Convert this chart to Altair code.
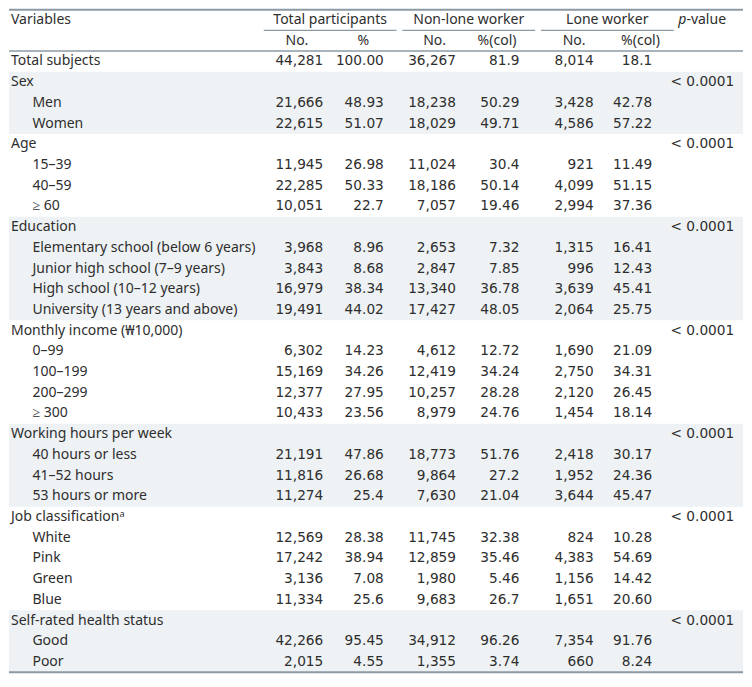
import altair as alt
import pandas as pd

# ---------------- data ----------------
variables = [
    "Total subjects",
    "Sex", "Men", "Women",
    "Age", "15–39", "40–59", "≥ 60",
    "Education", "Elementary school (below 6 years)", "Junior high school (7–9 years)",
    "High school (10–12 years)", "University (13 years and above)",
    "Monthly income (₩10,000)", "0–99", "100–199", "200–299", "≥ 300",
    "Working hours per week", "40 hours or less", "41–52 hours", "53 hours or more",
    "Job classificationᵃ", "White", "Pink", "Green", "Blue",
    "Self-rated health status", "Good", "Poor",
]
level = [0, 0, 1, 1, 0, 1, 1, 1, 0, 1, 1, 1, 1, 0, 1, 1, 1, 1, 0, 1, 1, 1, 0, 1, 1, 1, 1, 0, 1, 1]
total_no = ["44,281", "", "21,666", "22,615", "", "11,945", "22,285", "10,051", "", "3,968", "3,843",
            "16,979", "19,491", "", "6,302", "15,169", "12,377", "10,433", "", "21,191", "11,816",
            "11,274", "", "12,569", "17,242", "3,136", "11,334", "", "42,266", "2,015"]
total_pct = ["100.00", "", "48.93", "51.07", "", "26.98", "50.33", "22.7", "", "8.96", "8.68",
             "38.34", "44.02", "", "14.23", "34.26", "27.95", "23.56", "", "47.86", "26.68",
             "25.4", "", "28.38", "38.94", "7.08", "25.6", "", "95.45", "4.55"]
nonlone_no = ["36,267", "", "18,238", "18,029", "", "11,024", "18,186", "7,057", "", "2,653", "2,847",
              "13,340", "17,427", "", "4,612", "12,419", "10,257", "8,979", "", "18,773", "9,864",
              "7,630", "", "11,745", "12,859", "1,980", "9,683", "", "34,912", "1,355"]
nonlone_pct = ["81.9", "", "50.29", "49.71", "", "30.4", "50.14", "19.46", "", "7.32", "7.85",
               "36.78", "48.05", "", "12.72", "34.24", "28.28", "24.76", "", "51.76", "27.2",
               "21.04", "", "32.38", "35.46", "5.46", "26.7", "", "96.26", "3.74"]
lone_no = ["8,014", "", "3,428", "4,586", "", "921", "4,099", "2,994", "", "1,315", "996",
           "3,639", "2,064", "", "1,690", "2,750", "2,120", "1,454", "", "2,418", "1,952",
           "3,644", "", "824", "4,383", "1,156", "1,651", "", "7,354", "660"]
lone_pct = ["18.1", "", "42.78", "57.22", "", "11.49", "51.15", "37.36", "", "16.41", "12.43",
            "45.41", "25.75", "", "21.09", "34.31", "26.45", "18.14", "", "30.17", "24.36",
            "45.47", "", "10.28", "54.69", "14.42", "20.60", "", "91.76", "8.24"]
p_value = ["", "< 0.0001", "", "", "< 0.0001", "", "", "", "< 0.0001", "", "", "", "",
           "< 0.0001", "", "", "", "", "< 0.0001", "", "", "", "< 0.0001", "", "", "", "",
           "< 0.0001", "", ""]

group_headers = ["Total participants", "Non-lone worker", "Lone worker"]
sub_headers = ["No.", "%", "No.", "%(col)", "No.", "%(col)"]

# ---------------- layout ----------------
W, H = 734, 666
REF_W = 752
TEXT = "#2e2e2e"
LINE = "#8d9aa6"
SHADE = "#eef2f4"
LABEL_FONT = "Noto Sans"
NUM_FONT = "DejaVu Sans"
LABEL_SIZE = 14
NUM_SIZE = 13.7

label_x = {0: 2, 1: 24}
num_cols = [  # (values, right anchor, is percentage)
    (total_no, 322, False), (total_pct, 384, True),
    (nonlone_no, 458, False), (nonlone_pct, 523, True),
    (lone_no, 599, False), (lone_pct, 659, True),
]
group_spans = [(261, 397), (403, 539), (545, 681)]
sub_centers = [295, 363, 436, 500, 579, 647]
p_right = 743
p_head_x = 694

FIG = "\u2007"  # figure space: keeps decimals aligned


def pad(s):
    if not s:
        return s
    dec = len(s.split(".")[1]) if "." in s else 0
    return s + FIG * (2 - dec)


n = len(variables)

labels = pd.DataFrame({
    "y": [i + 0.5 for i in range(n)],
    "x": [label_x[l] for l in level],
    "text": variables,
})

rows = []
for vals, xr, is_pct in num_cols:
    for i, v in enumerate(vals):
        if v:
            rows.append({"y": i + 0.5, "x": xr, "text": pad(v) if is_pct else v})
for i, v in enumerate(p_value):
    if v:
        rows.append({"y": i + 0.5, "x": p_right, "text": v})
numbers = pd.DataFrame(rows)

head_center = pd.DataFrame(
    [{"y": -1.5, "x": (a + b) / 2, "text": t} for t, (a, b) in zip(group_headers, group_spans)]
    + [{"y": -0.5, "x": c, "text": t} for t, c in zip(sub_headers, sub_centers)]
)
head_left = pd.DataFrame([{"y": -1.5, "x": 2, "text": "Variables"},
                          {"y": -1.5, "x": p_head_x, "text": "-value"}])
head_italic = pd.DataFrame([{"y": -1.5, "x": p_head_x, "text": "p"}])

starts = [i for i, l in enumerate(level) if l == 0]
ends = starts[1:] + [n]
bands = pd.DataFrame([{"y": s, "y2": e} for k, (s, e) in enumerate(zip(starts, ends)) if k % 2 == 1])

hrules = pd.DataFrame([{"y": -2, "w": 2.0}, {"y": 0, "w": 1.5}, {"y": n, "w": 2.0}])
underlines = pd.DataFrame([{"y": -1, "x": a, "x2": b} for a, b in group_spans])

xs = alt.Scale(domain=[0, REF_W], nice=False, zero=False)
ys = alt.Scale(domain=[-2.08, n + 0.08], reverse=True, nice=False, zero=False)
X = alt.X("x:Q", scale=xs, axis=None)
Y = alt.Y("y:Q", scale=ys, axis=None)

band_layer = alt.Chart(bands).mark_rect(color=SHADE).encode(
    x=alt.value(0), x2=alt.value(W), y=Y, y2="y2:Q")

rule_layer = alt.Chart(hrules).mark_rule(color=LINE).encode(
    x=alt.value(0), x2=alt.value(W), y=Y, strokeWidth=alt.StrokeWidth("w:Q", scale=None, legend=None))

under_layer = alt.Chart(underlines).mark_rule(color=LINE, strokeWidth=1.3).encode(
    x=X, x2="x2:Q", y=Y)

label_layer = alt.Chart(labels).mark_text(
    align="left", baseline="middle", font=LABEL_FONT, fontSize=LABEL_SIZE, color=TEXT
).encode(x=X, y=Y, text="text:N")

num_layer = alt.Chart(numbers).mark_text(
    align="right", baseline="middle", font=NUM_FONT, fontSize=NUM_SIZE, color=TEXT
).encode(x=X, y=Y, text="text:N")

hc_layer = alt.Chart(head_center).mark_text(
    align="center", baseline="middle", font=LABEL_FONT, fontSize=LABEL_SIZE, color=TEXT
).encode(x=X, y=Y, text="text:N")

hl_layer = alt.Chart(head_left).mark_text(
    align="left", baseline="middle", font=LABEL_FONT, fontSize=LABEL_SIZE, color=TEXT
).encode(x=X, y=Y, text="text:N")

hi_layer = alt.Chart(head_italic).mark_text(
    align="right", baseline="middle", font=LABEL_FONT, fontSize=LABEL_SIZE, fontStyle="italic", color=TEXT
).encode(x=X, y=Y, text="text:N")

chart = alt.layer(
    band_layer, rule_layer, under_layer, label_layer, num_layer, hc_layer, hl_layer, hi_layer
).properties(width=W, height=H, padding=0, background="white").configure_view(stroke=None)

chart.save("out.html", embed_options={"renderer": "svg", "actions": False})
